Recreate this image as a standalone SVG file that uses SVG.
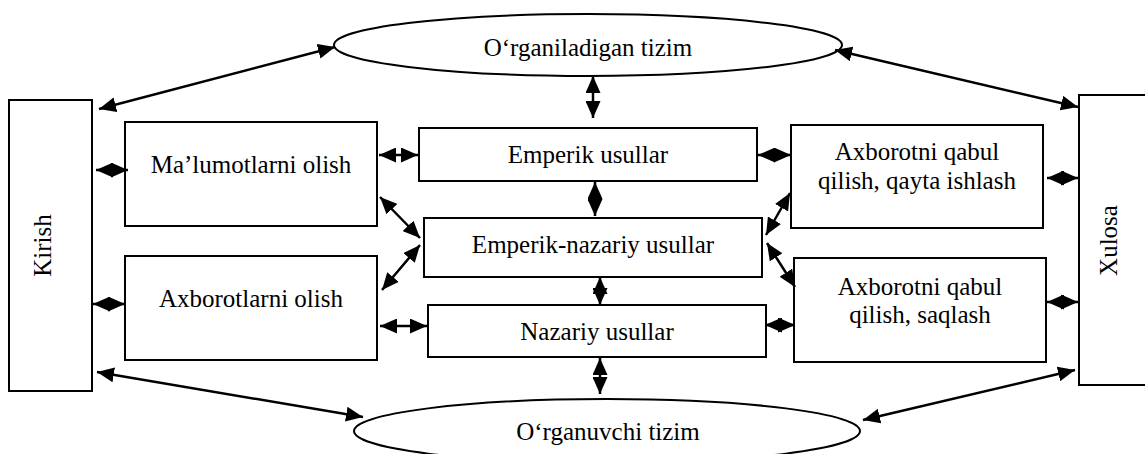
<svg xmlns="http://www.w3.org/2000/svg" width="1145" height="454" viewBox="0 0 1145 454">
<style>
.box{fill:#fff;stroke:#000;stroke-width:2}
.t{font-family:"Liberation Serif","Times New Roman",serif;font-size:25px;fill:#000;text-anchor:middle}
.c{stroke:#000;stroke-width:2.5;fill:none;marker-start:url(#ah);marker-end:url(#ah)}
</style>
<defs>
<marker id="ah" markerUnits="userSpaceOnUse" markerWidth="17" markerHeight="15" refX="17" refY="7.5" orient="auto-start-reverse" viewBox="0 0 17 15">
<path d="M0,0 L17,7.5 L0,15 z" fill="#000"/>
</marker>
</defs>
<rect width="1145" height="454" fill="#fff"/>
<g id="kirish"><rect class="box" x="9" y="100" width="83" height="291"/><text class="t" transform="translate(51,245.5) rotate(-90)">Kirish</text></g>
<g id="xulosa"><rect class="box" x="1079" y="95" width="80" height="290"/><text class="t" transform="translate(1117,240.5) rotate(-90)">Xulosa</text></g>
<g id="organiladigan"><ellipse class="box" cx="588" cy="45" rx="254" ry="31"/><text class="t" x="588" y="56">O‘rganiladigan tizim</text></g>
<g id="organuvchi"><ellipse class="box" cx="607" cy="431" rx="253" ry="32"/><text class="t" x="608" y="440">O‘rganuvchi tizim</text></g>
<g id="malumot"><rect class="box" x="125" y="122" width="252" height="104"/><text class="t" x="251" y="173">Ma’lumotlarni olish</text></g>
<g id="axborotlar"><rect class="box" x="125" y="256" width="252" height="104"/><text class="t" x="251" y="307">Axborotlarni olish</text></g>
<g id="emperik"><rect class="box" x="419" y="128" width="338" height="53"/><text class="t" x="588" y="163">Emperik usullar</text></g>
<g id="emperik-nazariy"><rect class="box" x="424" y="218" width="338" height="59"/><text class="t" x="593" y="253">Emperik-nazariy usullar</text></g>
<g id="nazariy"><rect class="box" x="428" y="305" width="338" height="52"/><text class="t" x="597" y="340">Nazariy usullar</text></g>
<g id="qayta"><rect class="box" x="791" y="125" width="252" height="103"/><text class="t" x="917" y="160">Axborotni qabul</text><text class="t" x="917" y="189">qilish, qayta ishlash</text></g>
<g id="saqlash"><rect class="box" x="794" y="258" width="252" height="104"/><text class="t" x="920" y="295">Axborotni qabul</text><text class="t" x="920" y="323">qilish, saqlash</text></g>
<g id="connectors">
<line class="c" x1="99" y1="109" x2="335" y2="47"/>
<line class="c" x1="835" y1="50" x2="1078" y2="107"/>
<line class="c" x1="593" y1="76" x2="593" y2="118"/>
<line class="c" x1="96" y1="170" x2="128" y2="170"/>
<line class="c" x1="93" y1="304" x2="125" y2="304"/>
<line class="c" x1="379" y1="155" x2="418" y2="155"/>
<line class="c" x1="758" y1="155" x2="791" y2="155"/>
<line class="c" x1="380" y1="197" x2="420" y2="238"/>
<line class="c" x1="382" y1="290" x2="420" y2="245"/>
<line class="c" x1="595" y1="182" x2="595" y2="216"/>
<line class="c" x1="600" y1="277" x2="600" y2="305"/>
<line class="c" x1="380" y1="326" x2="427" y2="326"/>
<line class="c" x1="765" y1="325" x2="795" y2="325"/>
<line class="c" x1="766" y1="235" x2="790" y2="193"/>
<line class="c" x1="767" y1="243" x2="795" y2="287"/>
<line class="c" x1="1047" y1="178" x2="1078" y2="178"/>
<line class="c" x1="1047" y1="302" x2="1078" y2="302"/>
<line class="c" x1="600" y1="358" x2="600" y2="394"/>
<line class="c" x1="97" y1="372" x2="363" y2="417"/>
<line class="c" x1="863" y1="420" x2="1075" y2="370"/>
</g>
</svg>
